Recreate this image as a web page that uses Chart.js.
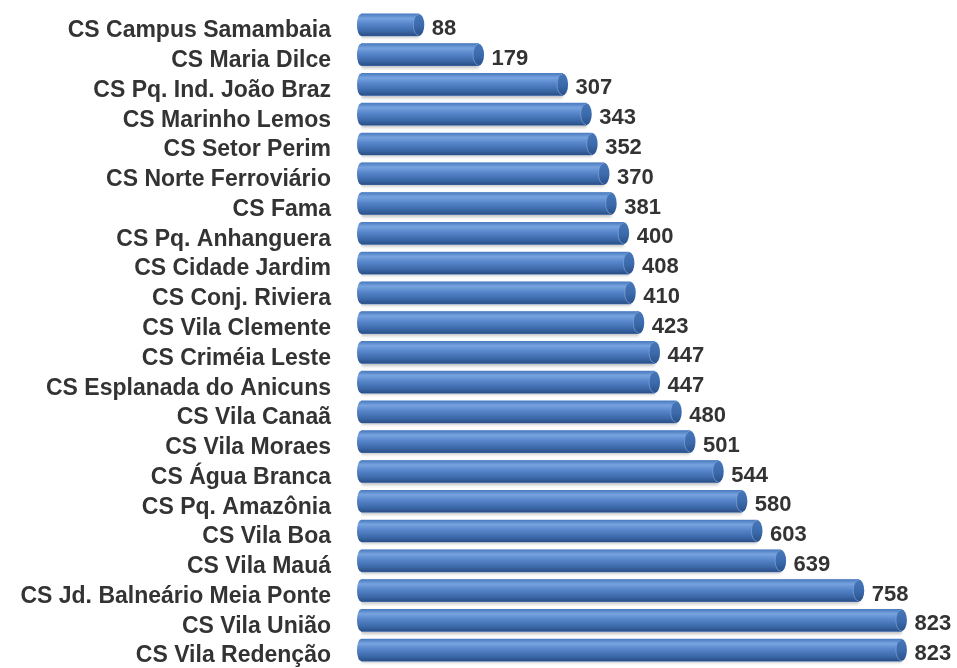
<!DOCTYPE html>
<html>
<head>
<meta charset="utf-8">
<script src="https://cdn.jsdelivr.net/npm/chart.js@4/dist/chart.umd.min.js"></script>
<style>
html,body{margin:0;padding:0;background:#fff;}
#wrap{width:957px;height:668px;position:relative;}
</style>
</head>
<body>
<div id="wrap"><canvas id="c" width="957" height="668"></canvas></div>
<script>
const categories = [
  "CS Campus Samambaia","CS Maria Dilce","CS Pq. Ind. João Braz","CS Marinho Lemos",
  "CS Setor Perim","CS Norte Ferroviário","CS Fama","CS Pq. Anhanguera",
  "CS Cidade Jardim","CS Conj. Riviera","CS Vila Clemente","CS Criméia Leste",
  "CS Esplanada do Anicuns","CS Vila Canaã","CS Vila Moraes","CS Água Branca",
  "CS Pq. Amazônia","CS Vila Boa","CS Vila Mauá","CS Jd. Balneário Meia Ponte",
  "CS Vila União","CS Vila Redenção"
];
const values = [88,179,307,343,352,370,381,400,408,410,423,447,447,480,501,544,580,603,639,758,823,823];
const axisMax = 900;

function bodyGradient(ctx, top, bottom){
  const g = ctx.createLinearGradient(0, top, 0, bottom);
  g.addColorStop(0, '#4a7bbf');
  g.addColorStop(0.2, '#77a3df');
  g.addColorStop(0.45, '#5786cb');
  g.addColorStop(0.8, '#3a67a6');
  g.addColorStop(1, '#2a4e85');
  return g;
}

const cylinderPlugin = {
  id: 'cylinder',
  beforeDatasetDraw(chart){
    const ctx = chart.ctx;
    ctx.save();
    ctx.shadowColor = 'rgba(0,0,0,0.25)';
    ctx.shadowBlur = 3;
    ctx.shadowOffsetY = 2;
  },
  afterDatasetDraw(chart){
    const ctx = chart.ctx;
    ctx.restore();
    const meta = chart.getDatasetMeta(0);
    meta.data.forEach((el, i) => {
      const h = el.height;
      const top = el.y - h/2, bottom = el.y + h/2;
      const ry = h/2;
      ctx.save();
      const g = bodyGradient(ctx, top, bottom);
      ctx.fillStyle = g;
      ctx.fillRect(el.base, top, el.x - el.base, h);
      ctx.beginPath();
      ctx.ellipse(el.base, el.y, 4, ry, 0, Math.PI/2, Math.PI*1.5);
      ctx.closePath();
      ctx.fill();
      const cg = ctx.createLinearGradient(0, top, 0, bottom);
      cg.addColorStop(0, '#4677b9');
      cg.addColorStop(0.5, '#3d6cae');
      cg.addColorStop(1, '#29508a');
      ctx.fillStyle = cg;
      ctx.beginPath();
      ctx.ellipse(el.x, el.y, 5.5, ry, 0, 0, Math.PI*2);
      ctx.fill();
      ctx.strokeStyle = 'rgba(130,165,220,0.85)';
      ctx.lineWidth = 0.8;
      ctx.beginPath();
      ctx.ellipse(el.x, el.y, 5.5, ry - 0.5, 0, Math.PI/2, Math.PI*1.5);
      ctx.stroke();
      ctx.fillStyle = '#333333';
      ctx.font = 'bold 22px "Liberation Sans", Arial, sans-serif';
      ctx.textAlign = 'left';
      ctx.textBaseline = 'middle';
      ctx.fillText(String(values[i]), el.x + 13, el.y + 4);
      ctx.restore();
    });
  }
};

new Chart(document.getElementById('c'), {
  type: 'bar',
  data: {
    labels: categories,
    datasets: [{
      data: values,
      barThickness: 22,
      borderWidth: 0,
      backgroundColor: '#5083c8'
    }]
  },
  options: {
    indexAxis: 'y',
    responsive: false,
    animation: false,
    events: [],
    layout: { padding: { top: 10, bottom: 3, left: 0, right: 5 } },
    plugins: { legend: { display: false }, tooltip: { enabled: false } },
    scales: {
      x: { display: false, min: 0, max: axisMax },
      y: {
        afterFit(scale){ scale.width = 361; scale.paddingTop = 0; scale.paddingBottom = 0; },
        grid: { display: false, drawTicks: false },
        border: { display: false },
        ticks: {
          autoSkip: false,
          padding: 30,
          labelOffset: 6,
          color: '#333333',
          font: { family: '"Liberation Sans", Arial, sans-serif', weight: 'bold', size: 23 }
        }
      }
    }
  },
  plugins: [cylinderPlugin]
});
</script>
</body>
</html>
